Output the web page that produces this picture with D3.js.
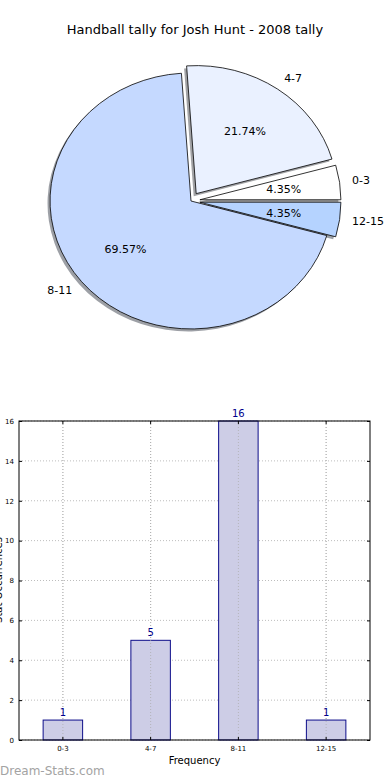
<!DOCTYPE html>
<html><head><meta charset="utf-8">
<script src="https://cdn.jsdelivr.net/npm/d3@7"></script>
<style>body{margin:0;background:#fff;}svg{display:block;font-family:"DejaVu Sans",sans-serif;}</style>
</head><body>
<script>
const title = "Handball tally for Josh Hunt - 2008 tally";
const categories = ["0-3","4-7","8-11","12-15"];
const counts = [1,5,16,1];
const pieColors = ["#ffffff","#eaf1ff","#c5d9ff","#b5d3ff"];
const exploded = [true,true,false,true];
const yTicks = [0,2,4,6,8,10,12,14,16];
const xLabel = "Frequency";
const yLabel = "Stat Occurrences";
const watermark = "Dream-Stats.com";

const W=390,H=780;
const svg=d3.select("body").append("svg").attr("width",W).attr("height",H);

svg.append("text").attr("x",195).attr("y",34).attr("text-anchor","middle")
  .attr("font-size",13).attr("fill","#000").text(title);

// ---- Pie ----
const cx=191, cy=201, rx=141, ry=128, exp=9;
const total=d3.sum(counts);
const pie=d3.pie().sort(null).value(d=>d)
  .startAngle(Math.PI/2).endAngle(Math.PI/2-2*Math.PI);
const arcs=pie(counts);
const arcGen=d3.arc().innerRadius(0).outerRadius(1);
const g=svg.append("g");
function midMath(a){ const m=(a.startAngle+a.endAngle)/2; return Math.PI/2-m; }
function offs(i){ if(!exploded[i]) return [0,0]; const t=midMath(arcs[i]); return [exp*Math.cos(t),-exp*Math.sin(t)]; }
arcs.forEach((a,i)=>{
  const [dx,dy]=offs(i);
  const c=d3.color(pieColors[i]); const sc=d3.rgb(c.r*0.3,c.g*0.3,c.b*0.3);
  g.append("path").attr("d",arcGen(a))
   .attr("transform",`translate(${cx+dx-2.5},${cy+dy+2.5}) scale(${rx},${ry})`)
   .attr("fill",sc).attr("opacity",0.5);
});
arcs.forEach((a,i)=>{
  const [dx,dy]=offs(i);
  g.append("path").attr("d",arcGen(a))
   .attr("transform",`translate(${cx+dx},${cy+dy}) scale(${rx},${ry})`)
   .attr("fill",pieColors[i]).attr("stroke","#000")
   .attr("vector-effect","non-scaling-stroke").attr("stroke-width",0.8);
});
arcs.forEach((a,i)=>{
  const [dx,dy]=offs(i); const t=midMath(a);
  const lx=cx+dx+1.1*rx*Math.cos(t), ly=cy+dy-1.1*ry*Math.sin(t);
  g.append("text").attr("x",lx-1.5*Math.sign(Math.cos(t))).attr("y",ly).attr("dy","0.35em")
   .attr("text-anchor",Math.cos(t)>=0?"start":"end").attr("font-size",11).text(categories[i]);
  const px=cx+dx+0.6*rx*Math.cos(t), py=cy+dy-0.6*ry*Math.sin(t);
  g.append("text").attr("x",px).attr("y",py).attr("dy","0.35em").attr("text-anchor","middle")
   .attr("font-size",11).text((counts[i]/total*100).toFixed(2)+"%");
});

// ---- Bar chart ----
const L=19,R=370,T=421,B=740;
const x=d3.scaleBand().domain(categories).range([L,R]).paddingInner(0.55).paddingOuter(0.275);
const y=d3.scaleLinear().domain([0,16]).range([B,T]);
const bg=svg.append("g");
yTicks.forEach(v=>{
  bg.append("line").attr("x1",L).attr("x2",R).attr("y1",y(v)).attr("y2",y(v))
   .attr("stroke","#bdbdbd").attr("stroke-width",1).attr("stroke-dasharray","1,2");
});
categories.forEach(c=>{
  const xc=x(c)+x.bandwidth()/2;
  bg.append("line").attr("x1",xc).attr("x2",xc).attr("y1",T).attr("y2",B)
   .attr("stroke","#bdbdbd").attr("stroke-width",1).attr("stroke-dasharray","1,2");
});
bg.selectAll("rect.bar").data(counts).enter().append("rect").attr("class","bar")
  .attr("x",(d,i)=>x(categories[i])).attr("width",x.bandwidth())
  .attr("y",d=>y(d)).attr("height",d=>B-y(d))
  .attr("fill","#cdcde6").attr("stroke","#0d0d8a").attr("stroke-width",1);
categories.forEach(c=>{
  const xc=x(c)+x.bandwidth()/2;
  bg.append("line").attr("x1",xc).attr("x2",xc).attr("y1",T).attr("y2",B)
   .attr("stroke","#aaaaaa").attr("stroke-width",1).attr("stroke-dasharray","1,2").attr("opacity",0.7);
});
bg.selectAll("text.val").data(counts).enter().append("text").attr("class","val")
  .attr("x",(d,i)=>x(categories[i])+x.bandwidth()/2).attr("y",d=>y(d)-4)
  .attr("text-anchor","middle").attr("font-size",10).attr("fill","#00008b").text(d=>d);
bg.append("rect").attr("x",L).attr("y",T).attr("width",R-L).attr("height",B-T)
  .attr("fill","none").attr("stroke","#000").attr("stroke-width",1);
const yAxis=d3.axisLeft(y).tickValues(yTicks).tickSize(-3).tickPadding(5);
const ya=svg.append("g").attr("transform",`translate(${L},0)`).call(yAxis);
ya.select(".domain").remove();
ya.selectAll("text").attr("font-size",7).attr("font-family","DejaVu Sans");
const yR=svg.append("g").attr("transform",`translate(${R},0)`).call(d3.axisRight(y).tickValues(yTicks).tickSize(-3).tickFormat(""));
yR.select(".domain").remove();
const xAxis=d3.axisBottom(x).tickSize(-3).tickPadding(6);
const xa=svg.append("g").attr("transform",`translate(0,${B})`).call(xAxis);
xa.select(".domain").remove();
xa.selectAll("text").attr("font-size",7).attr("font-family","DejaVu Sans");
const xT=svg.append("g").attr("transform",`translate(0,${T})`).call(d3.axisTop(x).tickSize(-3).tickFormat(""));
xT.select(".domain").remove();
svg.selectAll(".tick line").attr("stroke","#000");

svg.append("text").attr("x",(L+R)/2).attr("y",764).attr("text-anchor","middle")
  .attr("font-size",10).text(xLabel);
svg.append("text").attr("transform","translate(2,580) rotate(-90)").attr("text-anchor","middle")
  .attr("font-size",10).text(yLabel);
svg.append("text").attr("x",0).attr("y",775).attr("font-size",12).attr("fill","#a3a3a3")
  .text(watermark);
</script>
</body></html>
